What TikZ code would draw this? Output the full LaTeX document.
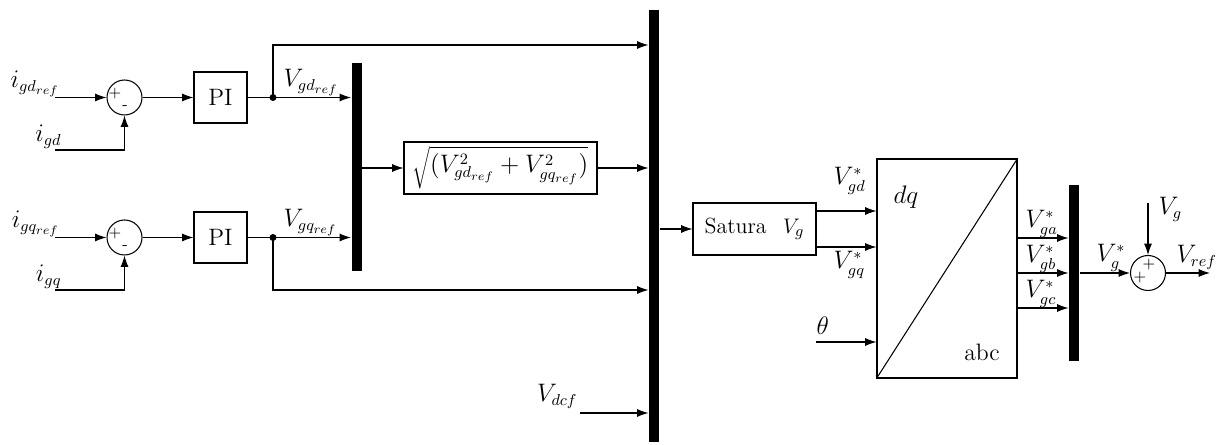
\documentclass[tikz,border=0pt]{standalone}
\usetikzlibrary{arrows.meta}
\begin{document}
\fontsize{13.5}{16}\selectfont
\begin{tikzpicture}[x=0.02cm,y=-0.02cm,
  every path/.style={line width=0.6pt},
  arr/.style={-{Latex[length=6.5pt,width=4.6pt]}},
  sumc/.style={draw,circle,minimum size=0.7cm,inner sep=0pt},
  blk/.style={draw,rectangle,inner sep=2pt},
  bar/.style={fill=black,draw=none,rectangle,minimum width=0.2cm,inner sep=0pt},
  lbl/.style={inner sep=0pt},
  sgn/.style={inner sep=0pt,font=\fontsize{9}{10}\selectfont}]
\useasboundingbox (0,0) rectangle (1220,445);
% --- d channel
\node[sumc] (s1) at (124.5,97.5) {};
\node[blk,minimum width=1.06cm,minimum height=1.02cm] (pi1) at (220.5,97.5) {PI};
\coordinate (d1) at (273,97.5);
\coordinate (t1) at (273,45);
\coordinate (in1) at (55,97.5);
\coordinate (in2) at (55,150);
\node[sgn] (p1) at (115,94) {$+$};
\node[sgn] (m1) at (125,108) {-};
% --- q channel
\node[sumc] (s2) at (124.5,237.5) {};
\node[blk,minimum width=1.06cm,minimum height=1.02cm] (pi2) at (220.5,237.5) {PI};
\coordinate (d2) at (273,237.5);
\coordinate (t2) at (273,290);
\coordinate (in3) at (55,237.5);
\coordinate (in4) at (55,290);
\node[sgn] (p2) at (115,234) {$+$};
\node[sgn] (m2) at (125,248) {-};
% --- bars
\node[bar,minimum height=4.16cm] (b1) at (356.5,167) {};
\node[bar,minimum height=8.64cm] (bb) at (654,226) {};
\node[bar,minimum height=3.52cm] (b3) at (1074,273) {};
% --- blocks
\node[blk,minimum width=3.86cm,minimum height=1.04cm] (sq) at (500.5,168) {$\sqrt{(V_{gd_{ref}}^2+V_{gq_{ref}}^2)}$};
\node[blk,minimum width=2.46cm,minimum height=1.04cm,font=\fontsize{12.5}{15}\selectfont] (sat) at (754.5,229) {Satura\hspace{0.75em}$V_g$};
\node[blk,minimum width=2.8cm,minimum height=4.38cm] (tr) at (947,268.5) {};
\draw (tr.south west) -- (tr.north east);
\node[lbl] (dq) at (906,197) {$dq$};
\node[lbl] (abc) at (982,352) {abc};
\node[sumc] (s3) at (1148,273) {};
\node[sgn] (p3) at (1140,278) {$+$};
\node[sgn] (p4) at (1149,265) {$+$};
% --- coordinates
\coordinate (c1) at (816,211);
\coordinate (c2) at (816,247);
\coordinate (th) at (816,342);
\coordinate (o1) at (1017,238);
\coordinate (o2) at (1017,273);
\coordinate (o3) at (1017,308);
\coordinate (vg) at (1148,203);
\coordinate (vr) at (1210,273);
\coordinate (vdc) at (580,413);
% --- connectors
\draw[arr] (in1) -- (s1.west);
\draw[arr] (in2) -| (s1.south);
\draw[arr] (s1.east) -- (pi1.west);
\draw (pi1.east) -- (d1);
\draw[arr] (d1) -- (d1 -| b1.west);
\draw[arr] (d1) -- (t1) -- (t1 -| bb.west);
\fill (d1) circle (3.5);
\draw[arr] (in3) -- (s2.west);
\draw[arr] (in4) -| (s2.south);
\draw[arr] (s2.east) -- (pi2.west);
\draw (pi2.east) -- (d2);
\draw[arr] (d2) -- (d2 -| b1.west);
\draw[arr] (d2) -- (t2) -- (t2 -| bb.west);
\fill (d2) circle (3.5);
\draw[arr] (sq.west -| b1.east) -- (sq.west);
\draw[arr] (sq.east) -- (sq.east -| bb.west);
\draw[arr] (vdc) -- (vdc -| bb.west);
\draw[arr] (sat.west -| bb.east) -- (sat.west);
\draw[arr] (c1) -- (c1 -| tr.west);
\draw[arr] (c2) -- (c2 -| tr.west);
\draw[arr] (th) -- (th -| tr.west);
\draw[arr] (o1) -- (o1 -| b3.west);
\draw[arr] (o2) -- (o2 -| b3.west);
\draw[arr] (o3) -- (o3 -| b3.west);
\draw[arr] (b3.east |- s3.west) -- (s3.west);
\draw[arr] (vg) -- (s3.north);
\draw[arr] (s3.east) -- (vr);
% --- labels
\node[lbl,anchor=base east] (l1) at (60,88) {$i_{gd_{ref}}$};
\node[lbl,anchor=base east] (l2) at (62,142) {$i_{gd}$};
\node[lbl,anchor=base east] (l3) at (60,228) {$i_{gq_{ref}}$};
\node[lbl,anchor=base east] (l4) at (62,282) {$i_{gq}$};
\node[lbl,anchor=base west] (l5) at (283,87) {$V_{gd_{ref}}$};
\node[lbl,anchor=base west] (l6) at (283,227) {$V_{gq_{ref}}$};
\node[lbl,anchor=base east] (l7) at (578,402) {$V_{dcf}$};
\node[lbl,anchor=base west] (l8) at (833,185) {$V^*_{gd}$};
\node[lbl,anchor=base west] (l9) at (833,269) {$V^*_{gq}$};
\node[lbl,anchor=base west] (l10) at (816,335) {$\theta$};
\node[lbl,anchor=base west] (l11) at (1025,228) {$V^*_{ga}$};
\node[lbl,anchor=base west] (l12) at (1025,263) {$V^*_{gb}$};
\node[lbl,anchor=base west] (l13) at (1025,298) {$V^*_{gc}$};
\node[lbl,anchor=base west] (l14) at (1096,262) {$V^*_{g}$};
\node[lbl,anchor=base west] (l15) at (1176,263) {$V_{ref}$};
\node[lbl,anchor=base west] (l16) at (1158,215) {$V_{g}$};
\end{tikzpicture}
\end{document}
